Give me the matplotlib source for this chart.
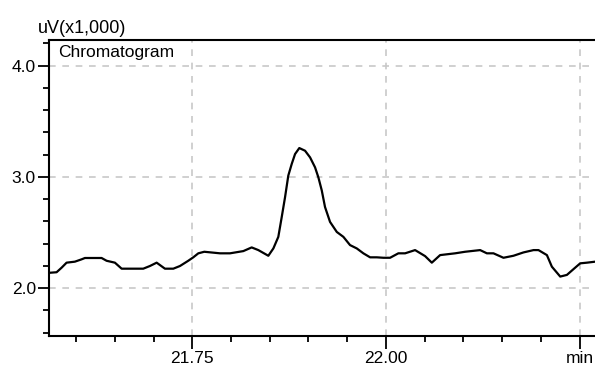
import matplotlib
matplotlib.use('Agg')
import matplotlib.pyplot as plt
from matplotlib.ticker import MultipleLocator, FixedLocator, FixedFormatter

plt.rcParams['font.family'] = ['Liberation Sans', 'DejaVu Sans']

# retention time (min) and detector signal (uV x 1,000)
time_min = [
    21.5674, 21.5748, 21.5813, 21.5877, 21.5984, 21.6071, 21.6114, 21.6329,
    21.6394, 21.6501, 21.6588, 21.6867, 21.6953, 21.7040, 21.7147, 21.7255,
    21.7341, 21.7448, 21.7513, 21.7578, 21.7655, 21.7858, 21.7987, 21.8159,
    21.8267, 21.8353, 21.8482, 21.8547, 21.8611, 21.8655, 21.8698, 21.8740,
    21.8784, 21.8827, 21.8882, 21.8956, 21.9021, 21.9085, 21.9128, 21.9172,
    21.9214, 21.9279, 21.9366, 21.9451, 21.9537, 21.9624, 21.9709, 21.9796,
    21.9882, 21.9968, 22.0054, 22.0161, 22.0248, 22.0377, 22.0506, 22.0593,
    22.0700, 22.0894, 22.1023, 22.1217, 22.1304, 22.1389, 22.1518, 22.1647,
    22.1776, 22.1906, 22.1970, 22.2079, 22.2143, 22.2251, 22.2337, 22.2444,
    22.2509, 22.2596, 22.2703,
]
signal = [
    2.139, 2.143, 2.184, 2.229, 2.238, 2.259, 2.271, 2.271,
    2.246, 2.229, 2.175, 2.175, 2.199, 2.229, 2.175, 2.175,
    2.199, 2.246, 2.277, 2.313, 2.327, 2.313, 2.313, 2.333,
    2.366, 2.342, 2.291, 2.357, 2.461, 2.639, 2.818, 3.012,
    3.116, 3.205, 3.259, 3.235, 3.175, 3.086, 2.996, 2.878,
    2.729, 2.595, 2.505, 2.461, 2.387, 2.357, 2.313, 2.277,
    2.277, 2.273, 2.273, 2.313, 2.313, 2.342, 2.288, 2.229,
    2.297, 2.313, 2.327, 2.342, 2.313, 2.313, 2.273, 2.291,
    2.321, 2.342, 2.342, 2.297, 2.193, 2.104, 2.119, 2.184,
    2.223, 2.229, 2.238,
]

x_major = [21.75, 22.00, 22.25]
x_labels = ['21.75', '22.00', 'min']
y_major = [2.0, 3.0, 4.0]
y_labels = ['2.0', '3.0', '4.0']

fig = plt.figure(figsize=(5.95, 3.68), dpi=100)
ax = fig.add_axes([49 / 595, 32 / 368, 1 - 49 / 595, 296 / 368])

ax.plot(time_min, signal, color='black', lw=1.6)

ax.set_xlim(21.565, 22.270)
ax.set_ylim(1.57, 4.23)

ax.xaxis.set_major_locator(FixedLocator(x_major))
ax.xaxis.set_major_formatter(FixedFormatter(x_labels))
ax.xaxis.set_minor_locator(MultipleLocator(0.05))
ax.yaxis.set_major_locator(FixedLocator(y_major))
ax.yaxis.set_major_formatter(FixedFormatter(y_labels))
ax.yaxis.set_minor_locator(MultipleLocator(0.2))

ax.tick_params(which='major', length=8, width=1.3, labelsize=12.5, pad=1.5, color='black')
ax.tick_params(which='minor', length=4, width=1.3, color='black')
ax.tick_params(axis='x', which='major', length=9, pad=2)

ax.grid(True, which='major', color='#c8c8c8', ls=(0, (4, 4)), lw=1.2)

for s in ['left', 'bottom', 'top']:
    ax.spines[s].set_linewidth(1.5)
    ax.spines[s].set_color('black')
ax.spines['right'].set_visible(False)

fig.text(38 / 595, 1 - 33 / 368, 'uV(x1,000)', fontsize=13, va='baseline', ha='left')
fig.text(58 / 595, 1 - 57 / 368, 'Chromatogram', fontsize=12.5, va='baseline', ha='left')

fig.savefig('out.png', dpi=100)
